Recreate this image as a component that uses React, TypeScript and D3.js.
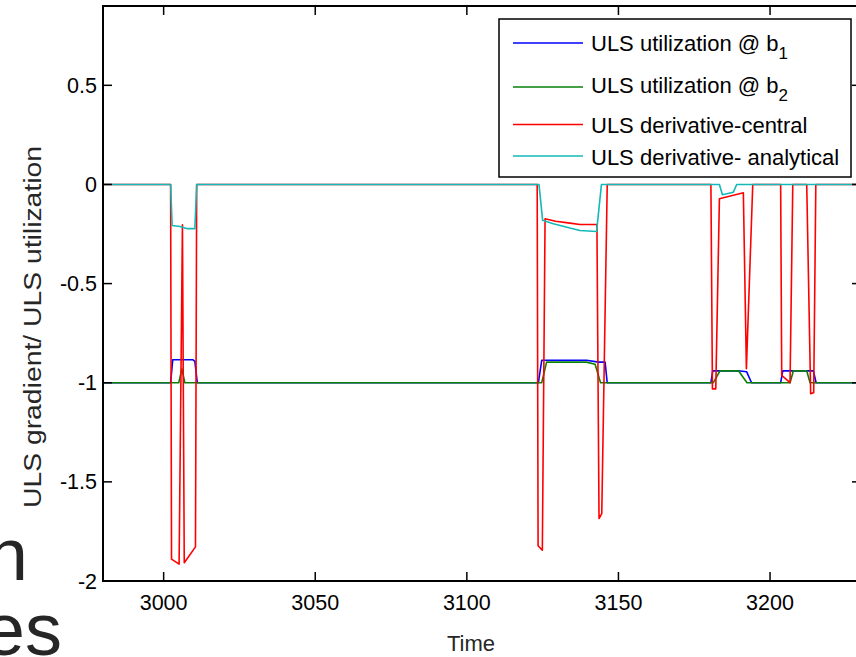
import React from "react";
import * as d3 from "d3";

// Time samples and values for each plotted series (break points of the polylines)
const blueT = [2980, 3002.3, 3003.0, 3009.6, 3010.3, 3011.1, 3123.6, 3124.7, 3139.5, 3143.4, 3145.6, 3146.3, 3180.5, 3181.1, 3189.5, 3192.3, 3193.9, 3203.5, 3204.2, 3214.3, 3215.2, 3230];
const blueV = [-1, -1, -0.884, -0.884, -0.892, -1, -1, -0.887, -0.887, -0.896, -0.896, -1, -1, -0.94, -0.94, -0.945, -1, -1, -0.94, -0.94, -1, -1];

const greenT = [2980, 3005.0, 3006.0, 3007.0, 3124.7, 3126.3, 3139.5, 3142.3, 3144.1, 3181.3, 3183.5, 3189.6, 3192.4, 3206.6, 3207.7, 3212.1, 3213.2, 3230];
const greenV = [-1, -1, -0.93, -1, -1, -0.896, -0.896, -0.907, -1, -1, -0.94, -0.94, -1, -1, -0.94, -0.94, -1, -1];

const redT = [2980, 3002.3, 3002.6, 3005.1, 3006.2, 3006.8, 3010.5, 3010.9,
  3123.2, 3123.5, 3124.9, 3125.8, 3129.3, 3134.0, 3137.3, 3142.9, 3143.6, 3144.5, 3146.3,
  3180.5, 3181.0, 3182.1, 3183.3, 3191.2, 3192.2, 3194.3,
  3203.5, 3203.85, 3206.6, 3207.5, 3212.1, 3213.4, 3214.4, 3215.1, 3230];
const redV = [0, 0, -1.89, -1.915, -0.203, -1.908, -1.828, 0,
  0, -1.822, -1.845, -0.173, -0.186, -0.195, -0.202, -0.202, -1.685, -1.66, 0,
  0, -1.031, -1.031, -0.072, -0.042, -0.929, 0,
  0, -0.963, -1.0, 0, 0, -1.055, -1.05, 0, 0];

const cyanT = [2980, 3002.3, 3002.8, 3005.4, 3007.8, 3010.3, 3010.9,
  3123.8, 3125.0, 3128.5, 3134.0, 3137.3, 3142.8, 3144.4,
  3183.3, 3184.3, 3187.9, 3189.0, 3230];
const cyanV = [0, 0, -0.207, -0.212, -0.223, -0.223, 0,
  0, -0.181, -0.198, -0.22, -0.232, -0.237, 0,
  0, -0.052, -0.039, 0, 0];

const xTicks = [3000, 3050, 3100, 3150, 3200];
const yTicks = [-2, -1.5, -1, -0.5, 0, 0.5];

const seriesNames = [
  ["ULS utilization @ b", "1"],
  ["ULS utilization @ b", "2"],
  ["ULS derivative-central", ""],
  ["ULS derivative- analytical", ""],
];
const seriesColors = ["#0000ff", "#0a800a", "#ff0000", "#14b8b8"];

const W = 856;
const H = 657;
const left = 103;
const right = 861;
const top = 6;
const bottom = 581;
const font = "'Liberation Sans', Arial, sans-serif";

export default function App() {
  const x = d3.scaleLinear().domain([2980, 3230]).range([left, right]);
  const y = d3.scaleLinear().domain([-2, 0.9]).range([bottom, top]);

  const line = d3
    .line<[number, number]>()
    .x((d) => x(d[0]))
    .y((d) => y(d[1]));

  const zip = (t: number[], v: number[]) => t.map((tt, i) => [tt, v[i]] as [number, number]);
  const paths = [zip(blueT, blueV), zip(greenT, greenV), zip(redT, redV), zip(cyanT, cyanV)];

  const tick = 9;
  const legX = 499;
  const legY = 19;
  const legW = 352;
  const legH = 158;
  const lineYs = [43, 87, 124.5, 156];
  const baseYs = [50.5, 93, 132.5, 164.5];

  return (
    <svg
      width={W}
      height={H}
      style={{ position: "absolute", left: 0, top: 0, background: "#fff" }}
      fontFamily={font}
    >
      <rect x={0} y={0} width={W} height={H} fill="#fff" />
      {/* slide text behind the figure */}
      <text x={28} y={580} fontSize={74} textAnchor="end" fill="#262626">n</text>
      <text x={62} y={655} fontSize={74} textAnchor="end" fill="#262626">es</text>

      <defs>
        <clipPath id="plotArea">
          <rect x={left} y={top} width={right - left} height={bottom - top} />
        </clipPath>
      </defs>

      <g clipPath="url(#plotArea)" fill="none" strokeWidth={1.6} strokeLinejoin="round">
        {paths.map((p, i) => (
          <path key={i} d={line(p) || ""} stroke={seriesColors[i]} />
        ))}
      </g>

      {/* axes box */}
      <rect x={left} y={top} width={right - left} height={bottom - top} fill="none" stroke="#000" strokeWidth={2} />

      {xTicks.map((t) => (
        <g key={t}>
          <line x1={x(t)} x2={x(t)} y1={bottom} y2={bottom - tick} stroke="#000" strokeWidth={1.5} />
          <line x1={x(t)} x2={x(t)} y1={top} y2={top + tick} stroke="#000" strokeWidth={1.5} />
          <text x={x(t)} y={610} fontSize={21.5} textAnchor="middle" fill="#000">
            {t}
          </text>
        </g>
      ))}
      {yTicks.map((v) => (
        <g key={v}>
          <line x1={left} x2={left + tick} y1={y(v)} y2={y(v)} stroke="#000" strokeWidth={1.5} />
          <line x1={right} x2={right - tick} y1={y(v)} y2={y(v)} stroke="#000" strokeWidth={1.5} />
          <text x={97} y={y(v) + 7.5} fontSize={21.5} textAnchor="end" fill="#000">
            {v}
          </text>
        </g>
      ))}

      <text x={471} y={651} fontSize={22} textAnchor="middle" fill="#262626">
        Time
      </text>
      <text
        transform={`translate(40.5, 327) rotate(-90)`}
        fontSize={23}
        textAnchor="middle"
        textLength={362}
        lengthAdjust="spacingAndGlyphs"
        fill="#262626"
      >
        ULS gradient/ ULS utilization
      </text>

      {/* legend */}
      <rect x={legX} y={legY} width={legW} height={legH} fill="#fff" stroke="#000" strokeWidth={1.5} />
      {seriesNames.map((n, i) => (
        <g key={i}>
          <line x1={513} x2={583} y1={lineYs[i]} y2={lineYs[i]} stroke={seriesColors[i]} strokeWidth={1.6} />
          <text x={591} y={baseYs[i]} fontSize={22} fill="#000">
            {n[0]}
            {n[1] && (
              <tspan fontSize={17} dy={8}>
                {n[1]}
              </tspan>
            )}
          </text>
        </g>
      ))}
    </svg>
  );
}
